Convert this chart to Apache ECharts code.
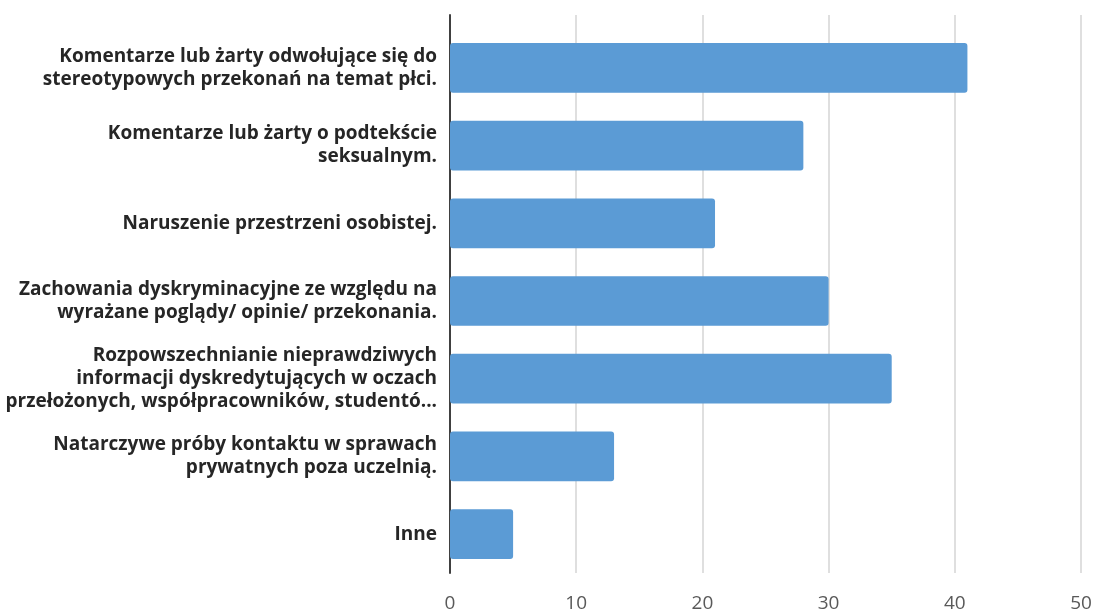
<!DOCTYPE html>
<html>
<head>
<meta charset="utf-8">
<script src="https://cdn.jsdelivr.net/npm/echarts@6/dist/echarts.min.js"></script>
<style>
  html, body { margin: 0; padding: 0; background: #ffffff; }
  #chart { width: 1096px; height: 613px; }
</style>
</head>
<body>
<div id="chart"></div>
<script>
// Category labels (line breaks as they appear on the axis)
const categories = [
  'Komentarze lub żarty odwołujące się do\nstereotypowych przekonań na temat płci.',
  'Komentarze lub żarty o podtekście\nseksualnym.',
  'Naruszenie przestrzeni osobistej.',
  'Zachowania dyskryminacyjne ze względu na\nwyrażane poglądy/ opinie/ przekonania.',
  'Rozpowszechnianie nieprawdziwych\ninformacji dyskredytujących w oczach\nprzełożonych, współpracowników, studentó...',
  'Natarczywe próby kontaktu w sprawach\nprywatnych poza uczelnią.',
  'Inne'
];
const values = [41, 28, 21, 30, 35, 13, 5];
const xTicks = [0, 10, 20, 30, 40, 50];

const chart = echarts.init(document.getElementById('chart'), null, { renderer: 'canvas' });

const xMin = xTicks[0];
const xMax = xTicks[xTicks.length - 1];
const xStep = xTicks[1] - xTicks[0];

chart.setOption({
  animation: false,
  backgroundColor: '#ffffff',
  grid: [
    // frame: gridlines, vertical axis line, tick labels
    { left: 450, right: 15, top: 15, bottom: 30 },
    // bars and category labels
    { left: 450, right: 15, top: 29, bottom: 40 }
  ],
  xAxis: [
    {
      gridIndex: 0, type: 'value', min: xMin, max: xMax, interval: xStep,
      axisLine: { show: false }, axisTick: { show: false },
      splitLine: { show: true, lineStyle: { color: '#d4d4d4', width: 1.5 } },
      axisLabel: {
        margin: 21, color: '#595959', fontSize: 19,
        fontFamily: 'Open Sans, sans-serif'
      }
    },
    {
      gridIndex: 1, type: 'value', min: xMin, max: xMax, interval: xStep,
      show: false
    }
  ],
  yAxis: [
    {
      gridIndex: 0, type: 'value', min: 0, max: 1,
      axisLine: { show: true, lineStyle: { color: '#404040', width: 2 } },
      axisTick: { show: false }, axisLabel: { show: false },
      splitLine: { show: false }
    },
    {
      gridIndex: 1, type: 'category', data: categories, inverse: true,
      axisLine: { show: false }, axisTick: { show: false },
      splitLine: { show: false },
      axisLabel: {
        margin: 13, color: '#262626', fontSize: 19, fontWeight: 'bold',
        lineHeight: 23, align: 'right',
        fontFamily: 'Open Sans, sans-serif'
      }
    }
  ],
  series: [
    {
      type: 'bar', xAxisIndex: 1, yAxisIndex: 1,
      data: values,
      barCategoryGap: '36%',
      itemStyle: { color: '#5B9BD5', borderRadius: 3 }
    }
  ]
});
</script>
</body>
</html>
